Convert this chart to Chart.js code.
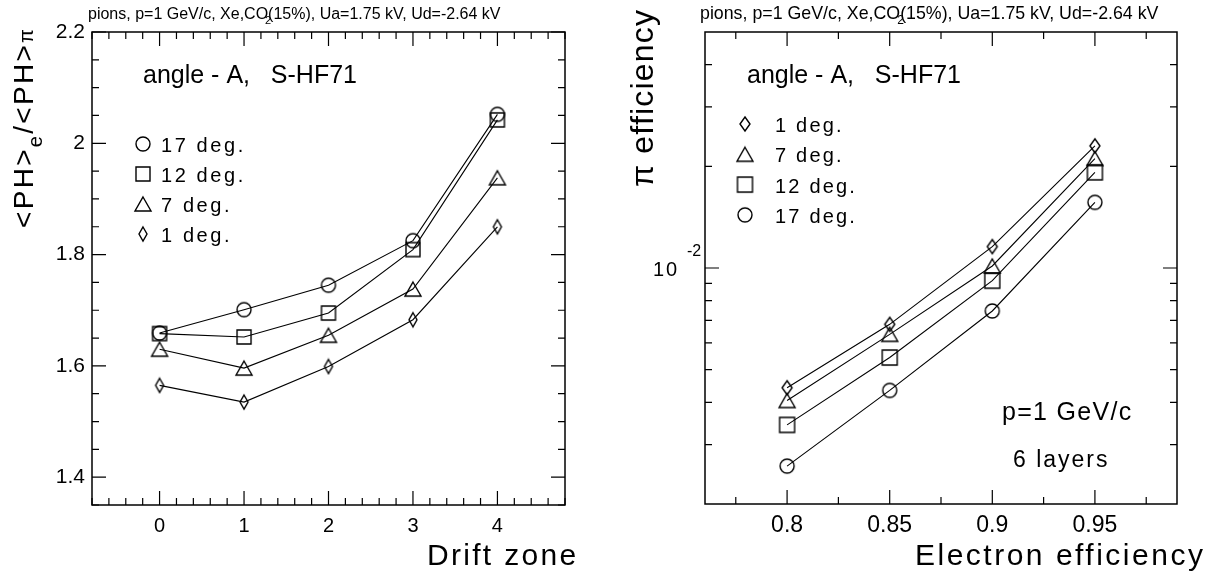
<!DOCTYPE html>
<html lang="en">
<head>
  <meta charset="UTF-8" />
  <title>PH ratio and pion efficiency</title>
  <script src="https://cdn.jsdelivr.net/npm/chart.js"></script>
  <style>
    body { margin: 0; background: #fff; }
    .pane { position: absolute; top: 0; }
    #leftPane { left: 0; }
    #rightPane { left: 611px; }
  </style>
</head>
<body>
  <div class="pane" id="leftPane"><canvas id="phChart" width="611" height="577"></canvas></div>
  <div class="pane" id="rightPane"><canvas id="effChart" width="612" height="577"></canvas></div>

  <script>
    // left panel: <PH>e/<PH>pi vs drift zone
    const driftZones = [0, 1, 2, 3, 4];
    const ph17 = [1.659, 1.701, 1.745, 1.825, 2.052];
    const ph12 = [1.658, 1.652, 1.695, 1.809, 2.042];
    const ph7 = [1.630, 1.596, 1.655, 1.738, 1.938];
    const ph1 = [1.565, 1.535, 1.599, 1.683, 1.850];
    const driftTicks = [0, 1, 2, 3, 4];
    const phTicks = [1.4, 1.6, 1.8, 2.0, 2.2];

    // right panel: pion efficiency vs electron efficiency
    const electronEff = [0.80, 0.85, 0.90, 0.95];
    const pion1 = [0.00442, 0.00681, 0.01157, 0.0230];
    const pion7 = [0.00405, 0.00636, 0.01014, 0.0211];
    const pion12 = [0.00343, 0.00543, 0.00917, 0.0192];
    const pion17 = [0.00259, 0.00434, 0.00746, 0.01565];
    const effTicks = [0.8, 0.85, 0.9, 0.95];

    const FONT = "'Liberation Sans', Arial, sans-serif";

    function makeMarker(shape, w, h) {
      const c = document.createElement('canvas');
      c.width = w + 4; c.height = h + 4;
      const g = c.getContext('2d');
      g.strokeStyle = '#000'; g.lineWidth = 1.4;
      const cx = c.width / 2, cy = c.height / 2;
      g.beginPath();
      if (shape === 'circle') g.arc(cx, cy, w / 2, 0, 2 * Math.PI);
      else if (shape === 'square') g.rect(cx - w / 2, cy - h / 2, w, h);
      else if (shape === 'triangle') { g.moveTo(cx, cy - h / 2); g.lineTo(cx + w / 2, cy + h / 2); g.lineTo(cx - w / 2, cy + h / 2); g.closePath(); }
      else { g.moveTo(cx, cy - h / 2); g.lineTo(cx + w / 2, cy); g.lineTo(cx, cy + h / 2); g.lineTo(cx - w / 2, cy); g.closePath(); }
      g.stroke();
      return c;
    }

    const mk = {
      circle: makeMarker('circle', 14, 14),
      square: makeMarker('square', 14, 14),
      triangle: makeMarker('triangle', 16, 14),
      diamond: makeMarker('diamond', 8, 14),
      diamondR: makeMarker('diamond', 10, 14),
      squareR: makeMarker('square', 15, 15)
    };

    function text(ctx, s, x, y, size, spacing) {
      ctx.font = size + 'px ' + FONT;
      ctx.letterSpacing = (spacing || 0) + 'px';
      ctx.fillText(s, x, y);
      const w = ctx.measureText(s).width;
      ctx.letterSpacing = '0px';
      return w;
    }

    // segments drawn one after the other; dy shifts sub/superscripts
    function rich(ctx, x, y, segs, spacing) {
      let cx = x;
      segs.forEach(sg => {
        const w = text(ctx, sg.t, cx + (sg.dx || 0), y + (sg.dy || 0), sg.size, spacing);
        if (!sg.noAdvance) cx += w;
      });
    }

    function lineDataset(xs, ys, marker) {
      return {
        data: xs.map((x, i) => ({ x: x, y: ys[i] })),
        showLine: true,
        borderColor: '#000',
        borderWidth: 1.1,
        pointStyle: marker,
        pointRadius: 7,
        pointHoverRadius: 7
      };
    }

    // frame + inward ticks on all four sides
    const framePlugin = {
      id: 'frame',
      afterDatasetsDraw(chart, args, opts) {
        const { ctx, chartArea: a, scales } = chart;
        ctx.save();
        ctx.strokeStyle = '#000';
        ctx.lineWidth = 1.5;
        ctx.strokeRect(a.left, a.top, a.right - a.left, a.bottom - a.top);
        ctx.lineWidth = 1.2;
        ctx.beginPath();
        const xt = (v, len) => {
          const px = scales.x.getPixelForValue(v);
          ctx.moveTo(px, a.bottom); ctx.lineTo(px, a.bottom - len);
          ctx.moveTo(px, a.top); ctx.lineTo(px, a.top + len);
        };
        const yt = (v, len) => {
          const py = scales.y.getPixelForValue(v);
          ctx.moveTo(a.left, py); ctx.lineTo(a.left + len, py);
          ctx.moveTo(a.right, py); ctx.lineTo(a.right - len, py);
        };
        opts.xMinor.forEach(v => xt(v, 7));
        opts.xMajor.forEach(v => xt(v, 14));
        opts.yMinor.forEach(v => yt(v, 7));
        opts.yMajor.forEach(v => yt(v, 14));
        ctx.stroke();
        ctx.restore();
      },
      afterDraw(chart, args, opts) {
        const ctx = chart.ctx;
        ctx.save();
        ctx.fillStyle = '#000';
        ctx.textBaseline = 'alphabetic';
        ctx.textAlign = 'left';
        opts.texts(ctx, chart);
        ctx.restore();
      }
    };

    function range(a, b, step) {
      const out = [];
      for (let i = 0; a + i * step <= b + 1e-9; i++) out.push(+(a + i * step).toFixed(4));
      return out;
    }

    function drawLegend(ctx, items, mx, tx, y0, dy, spacing) {
      items.forEach((it, i) => {
        const cy = y0 + i * dy;
        ctx.drawImage(it[0], mx - it[0].width / 2, cy - it[0].height / 2);
        text(ctx, it[1], tx, cy + 8, 20, spacing);
      });
    }

    const tickFont = size => ({ family: FONT, size: size });

    new Chart(document.getElementById('phChart'), {
      type: 'scatter',
      data: {
        datasets: [
          lineDataset(driftZones, ph17, mk.circle),
          lineDataset(driftZones, ph12, mk.square),
          lineDataset(driftZones, ph7, mk.triangle),
          lineDataset(driftZones, ph1, mk.diamond)
        ]
      },
      options: {
        responsive: false,
        animation: false,
        events: [],
        layout: { padding: { top: 32, right: 46, left: 0, bottom: 0 } },
        plugins: {
          legend: { display: false },
          tooltip: { enabled: false },
          frame: {
            xMajor: driftTicks,
            xMinor: range(-0.8, 4.8, 0.2),
            yMajor: phTicks,
            yMinor: range(1.35, 2.2, 0.05),
            texts(ctx) {
              rich(ctx, 88, 19, [
                { t: 'pions, p=1 GeV/c, Xe,CO', size: 16 },
                { t: '2', size: 11, dy: 5, dx: -3, noAdvance: true },
                { t: '(15%), Ua=1.75 kV, Ud=-2.64 kV', size: 16 }
              ], 0);
              ctx.save();
              ctx.translate(33, 228);
              ctx.rotate(-Math.PI / 2);
              rich(ctx, 0, 0, [
                { t: '<PH>', size: 28 },
                { t: 'e', size: 20, dy: 9 },
                { t: '/<PH>', size: 28 },
                { t: 'π', size: 20 }
              ], 2.3);
              ctx.restore();
              text(ctx, 'Drift zone', 427, 565, 30, 2.3);
              text(ctx, 'angle - A,   S-HF71', 143, 83, 25, 0);
              drawLegend(ctx, [[mk.circle, '17 deg.'], [mk.square, '12 deg.'], [mk.triangle, '7 deg.'], [mk.diamond, '1 deg.']],
                143, 161, 144, 30, 2.6);
            }
          }
        },
        scales: {
          x: {
            type: 'linear', min: -0.8, max: 4.8,
            afterBuildTicks: s => { s.ticks = driftTicks.map(v => ({ value: v })); },
            afterFit: s => { s.height = 72; },
            grid: { display: false, drawTicks: false },
            border: { display: false },
            ticks: { font: tickFont(20), color: '#000', padding: 9, maxRotation: 0, autoSkip: false, callback: v => String(v) }
          },
          y: {
            type: 'linear', min: 1.35, max: 2.2,
            afterBuildTicks: s => { s.ticks = phTicks.map(v => ({ value: v })); },
            afterFit: s => { s.width = 92; },
            grid: { display: false, drawTicks: false },
            border: { display: false },
            ticks: { font: tickFont(21), color: '#000', padding: 7, autoSkip: false, callback: v => String(+v.toFixed(1)) }
          }
        }
      },
      plugins: [framePlugin]
    });

    new Chart(document.getElementById('effChart'), {
      type: 'scatter',
      data: {
        datasets: [
          lineDataset(electronEff, pion1, mk.diamondR),
          lineDataset(electronEff, pion7, mk.triangle),
          lineDataset(electronEff, pion12, mk.squareR),
          lineDataset(electronEff, pion17, mk.circle)
        ]
      },
      options: {
        responsive: false,
        animation: false,
        events: [],
        layout: { padding: { top: 32, right: 46, left: 0, bottom: 0 } },
        plugins: {
          legend: { display: false },
          tooltip: { enabled: false },
          frame: {
            xMajor: effTicks,
            xMinor: [0.775, 0.825, 0.875, 0.925, 0.975],
            yMajor: [0.01],
            yMinor: [0.003, 0.004, 0.005, 0.006, 0.007, 0.008, 0.009, 0.02, 0.03, 0.04],
            texts(ctx, chart) {
              rich(ctx, 89, 19, [
                { t: 'pions, p=1 GeV/c, Xe,CO', size: 17.8 },
                { t: '2', size: 12, dy: 5, dx: -3, noAdvance: true },
                { t: '(15%), Ua=1.75 kV, Ud=-2.64 kV', size: 17.8 }
              ], 0);
              ctx.save();
              ctx.translate(42, 187);
              ctx.rotate(-Math.PI / 2);
              text(ctx, 'π efficiency', 0, 0, 32, 1.2);
              ctx.restore();
              const py = chart.scales.y.getPixelForValue(0.01);
              text(ctx, '10', 42, py + 8, 20, 2);
              text(ctx, '-2', 76, py - 12, 16, 0);
              text(ctx, 'Electron efficiency', 304, 565, 30, 2.5);
              text(ctx, 'angle - A,   S-HF71', 136, 83, 25, 0);
              drawLegend(ctx, [[mk.diamondR, '1 deg.'], [mk.triangle, '7 deg.'], [mk.squareR, '12 deg.'], [mk.circle, '17 deg.']],
                134, 164, 124, 30.3, 2.2);
              text(ctx, 'p=1 GeV/c', 391, 420, 25, 1.3);
              text(ctx, '6 layers', 402, 467, 23, 2);
            }
          }
        },
        scales: {
          x: {
            type: 'linear', min: 0.76, max: 0.99,
            afterBuildTicks: s => { s.ticks = effTicks.map(v => ({ value: v })); },
            afterFit: s => { s.height = 73; },
            grid: { display: false, drawTicks: false },
            border: { display: false },
            ticks: { font: tickFont(23), color: '#000', padding: 8, maxRotation: 0, autoSkip: false, callback: v => String(v) }
          },
          y: {
            type: 'logarithmic', min: 0.002, max: 0.05,
            afterFit: s => { s.width = 94; },
            grid: { display: false, drawTicks: false },
            border: { display: false },
            ticks: { display: false }
          }
        }
      },
      plugins: [framePlugin]
    });
  </script>
</body>
</html>
